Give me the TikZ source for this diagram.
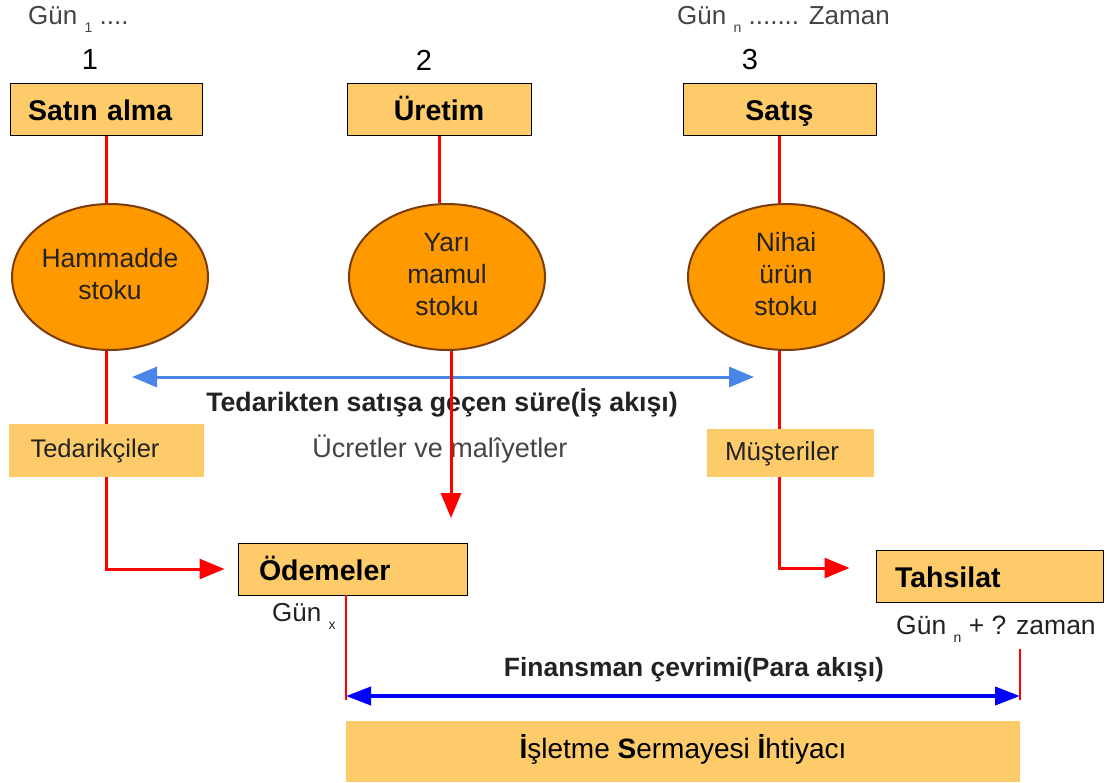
\documentclass[tikz,border=0pt]{standalone}
\usepackage{fontspec}
\setmainfont{Liberation Sans}
\usetikzlibrary{arrows.meta,shapes.geometric,calc}
\definecolor{boxfill}{HTML}{FDCB6A}
\definecolor{ellfill}{HTML}{FF9900}
\definecolor{elldraw}{HTML}{7A3D0A}
\definecolor{redl}{HTML}{FF0000}
\definecolor{bluetop}{HTML}{4A86E8}
\definecolor{bluebot}{HTML}{0000FF}
\definecolor{txt}{HTML}{222222}
\definecolor{graytxt}{HTML}{444444}
\newcommand{\sbs}[1]{\raisebox{-0.6ex}{\fontsize{14}{14}\selectfont #1}}
\newcommand{\stocktext}[1]{\raisebox{5pt}{\begin{tabular}{@{}c@{}}#1\end{tabular}}}
\begin{document}
\begin{tikzpicture}[x=1pt,y=-1pt,
  stepbox/.style={draw=black, line width=1pt, fill=boxfill, minimum height=52pt, inner sep=0pt, text height=26pt, text depth=4pt, font=\fontsize{28.5}{30}\selectfont\bfseries, text=black},
  plainbox/.style={fill=boxfill, inner sep=0pt, text height=20pt, text depth=6pt, font=\fontsize{25.5}{28}\selectfont, text=txt},
  stock/.style={ellipse, draw=elldraw, line width=2pt, fill=ellfill, minimum width=196pt, minimum height=146pt, inner sep=0pt, align=center, font=\fontsize{26.5}{32}\selectfont, text=txt},
  redline/.style={draw=redl, line width=3pt},
  redthin/.style={draw=redl, line width=2pt},
  redarrow/.style={redline, -{Triangle[length=25pt,width=20pt]}},
  bluetoparrow/.style={draw=bluetop, line width=3pt, {Triangle[length=25pt,width=20pt]}-{Triangle[length=25pt,width=20pt]}},
  bluebotarrow/.style={draw=bluebot, line width=4pt, {Triangle[length=25pt,width=18pt]}-{Triangle[length=25pt,width=18pt]}},
  gtext/.style={inner sep=0pt, font=\fontsize{26}{28}\selectfont, text=graytxt},
  numtext/.style={inner sep=0pt, font=\fontsize{29}{30}\selectfont, text=black},
  boldlabel/.style={inner sep=0pt, font=\fontsize{26.7}{28}\selectfont\bfseries, text=txt},
  graylabel/.style={inner sep=0pt, font=\fontsize{27}{28}\selectfont, text=graytxt}
]
\useasboundingbox (0,0) rectangle (1107,782);

% top texts
\node[gtext, anchor=base west] (g1) at (28,24) {Gün \sbs{1} ....};
\node[gtext, anchor=base west] (gn) at (677,24) {Gün \sbs{n} ....... Zaman};
\node[numtext] (n1) at (90,60) {1};
\node[numtext] (n2) at (424,60) {2};
\node[numtext] (n3) at (750,60) {3};

% top boxes
\node[stepbox, text width=156pt, inner xsep=18pt, align=left] (satin) at (106,109) {Satın alma};
\node[stepbox, minimum width=184pt] (uretim) at (439,109) {Üretim};
\node[stepbox, minimum width=193pt] (satis) at (779.5,109) {Satış};

% stocks
\node[stock] (ham) at (110,277) {\stocktext{Hammadde\\stoku}};
\node[stock] (yari) at (447,277) {\stocktext{Yarı\\mamul\\stoku}};
\node[stock] (nihai) at (786,277) {\stocktext{Nihai\\ürün\\stoku}};

% middle boxes
\node[plainbox, minimum height=53pt, text width=151pt, inner xsep=22pt, align=left] (ted) at (106,450.5) {Tedarikçiler};
\node[plainbox, minimum height=48pt, text width=131pt, inner xsep=18pt, align=left, font=\fontsize{26}{28}\selectfont] (mus) at (790.5,453) {Müşteriler};
\node[stepbox, text width=187pt, inner xsep=21pt, align=left] (ode) at (352.5,569) {Ödemeler};
\node[stepbox, text width=189pt, inner xsep=19pt, align=left] (tah) at (989.5,576) {Tahsilat};
\node[plainbox, minimum width=674pt, minimum height=61pt, text=black, font=\fontsize{28}{30}\selectfont] (isb) at (683,751.5) {\textbf{İ}şletme \textbf{S}ermayesi \textbf{İ}htiyacı};

% labels
\node[boldlabel] (tl) at (442,403) {Tedarikten satışa geçen süre(İş akışı)};
\node[graylabel] (ucl) at (440,449) {Ücretler ve malîyetler};
\node[gtext, anchor=base west, text=txt] (gx) at (272,621) {Gün \sbs{x}};
\node[gtext, anchor=base west, text=txt, font=\fontsize{26.5}{28}\selectfont] (gnz) at (896,634) {Gün \sbs{n} + ? zaman};
\node[boldlabel, font=\fontsize{26.4}{28}\selectfont\bfseries] (fl) at (694,670) {Finansman çevrimi(Para akışı)};

% blue work-flow arrow
\coordinate (bl) at (132,377);
\coordinate (br) at (754,377);
\draw[bluetoparrow] (bl) -- (br);

% red connectors
\draw[redline] (satin.south) -- (satin.south |- ham.north);
\draw[redline] (satin.south |- ham.south) -- (ted.north);
\draw[redarrow, shorten >=13pt] (ted.south) |- (ode.west);
\draw[redline] (uretim.south) -- (uretim.south |- yari.north);
\coordinate (ce) at (451,518);
\draw[redarrow] ([xshift=4pt]yari.south) -- (ce);
\draw[redline] (satis.south) -- (satis.south |- nihai.north);
\draw[redline] (satis.south |- nihai.south) -- (satis.south |- mus.north);
\draw[redarrow, shorten >=26pt] (satis.south |- mus.south) |- ([yshift=8pt]tah.west);

% financing cycle
\coordinate (ft) at (346,595);
\coordinate (fb) at (346,700);
\coordinate (rt) at (1020,649);
\coordinate (rb) at (1020,700);
\draw[redthin] (ft) -- (fb);
\draw[redthin] (rt) -- (rb);
\coordinate (fl1) at (346,696);
\coordinate (fl2) at (1020,696);
\draw[bluebotarrow] (fl1) -- (fl2);
\end{tikzpicture}
\end{document}
